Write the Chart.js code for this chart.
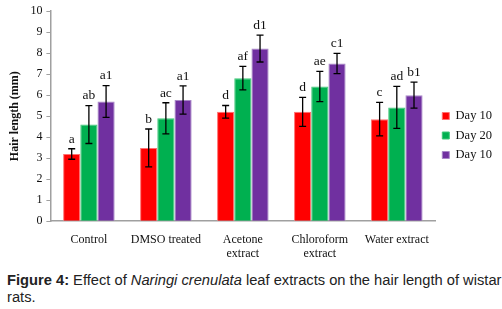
<!DOCTYPE html>
<html><head><meta charset="utf-8">
<script src="https://cdn.jsdelivr.net/npm/chart.js@4.4.1/dist/chart.umd.min.js"></script>
<style>
html,body{margin:0;padding:0;background:#fff;width:502px;height:309px;overflow:hidden;}
#wrap{position:absolute;left:0;top:0;width:502px;height:264px;}
#cap{position:absolute;left:7px;top:272px;font-family:"Liberation Sans",Arial,sans-serif;font-size:14.7px;line-height:17px;color:#222;white-space:nowrap;}
</style></head><body>
<div id="wrap"><canvas id="c"></canvas></div>
<div id="cap"><b>Figure 4:</b> Effect of <i>Naringi crenulata</i> leaf extracts on the hair length of wistar<br>rats.</div>
<script>
const categories = ["Control", "DMSO treated", ["Acetone", "extract"], ["Chloroform", "extract"], "Water extract"];
const seriesNames = ["Day 10", "Day 20", "Day 10"];
const day10a = [3.2, 3.49, 5.21, 5.21, 4.86];
const day20 = [4.6, 4.9, 6.81, 6.41, 5.42];
const day10b = [5.7, 5.77, 8.22, 7.51, 6.0];
const err10a = [0.25, 0.9, 0.3, 0.69, 0.8];
const err20 = [0.9, 0.74, 0.56, 0.72, 1.0];
const err10b = [0.76, 0.67, 0.64, 0.48, 0.62];
const sig10a = ["a", "b", "d", "d", "c"];
const sig20 = ["ab", "ac", "af", "ae", "ad"];
const sig10b = ["a1", "a1", "d1", "c1", "b1"];
const yTicks = [0,1,2,3,4,5,6,7,8,9,10];

const serif = "'Liberation Serif','DejaVu Serif',serif";

const errPlugin = {
  id: 'errbars',
  afterDatasetsDraw(chart) {
    const ctx = chart.ctx;
    const y = chart.scales.y;
    chart.data.datasets.forEach((ds, di) => {
      const meta = chart.getDatasetMeta(di);
      meta.data.forEach((bar, i) => {
        const v = ds.data[i], e = ds.errors[i];
        const yt = y.getPixelForValue(v + e), yb = y.getPixelForValue(v - e);
        const x = bar.x;
        ctx.save();
        ctx.strokeStyle = '#000';
        ctx.lineWidth = 1.3;
        ctx.beginPath();
        ctx.moveTo(x, yt); ctx.lineTo(x, yb);
        ctx.moveTo(x - 3.5, yt); ctx.lineTo(x + 3.5, yt);
        ctx.moveTo(x - 3.5, yb); ctx.lineTo(x + 3.5, yb);
        ctx.stroke();
        ctx.fillStyle = '#111';
        ctx.font = "13.5px " + serif;
        ctx.textAlign = 'center';
        ctx.textBaseline = 'bottom';
        ctx.fillText(ds.sig[i], x, yt - 3);
        ctx.restore();
      });
    });
  }
};

new Chart(document.getElementById('c'), {
  type: 'bar',
  data: {
    labels: categories,
    datasets: [
      {label: seriesNames[0], data: day10a, errors: err10a, sig: sig10a, backgroundColor: '#FF0000', borderColor: '#FF7070', borderWidth: 1},
      {label: seriesNames[1], data: day20, errors: err20, sig: sig20, backgroundColor: '#00B050', borderColor: '#40C878', borderWidth: 1},
      {label: seriesNames[2], data: day10b, errors: err10b, sig: sig10b, backgroundColor: '#7030A0', borderColor: '#A888C8', borderWidth: 1}
    ]
  },
  options: {
    responsive: true,
    maintainAspectRatio: false,
    animation: false,
    layout: {padding: {top: 7, right: 0, left: 8, bottom: 0}},
    datasets: {bar: {categoryPercentage: 0.67, barPercentage: 1.0}},
    plugins: {
      legend: {
        position: 'right',
        labels: {boxWidth: 7, boxHeight: 7, padding: 7, color: '#111', font: {family: serif, size: 12.5}}
      },
      tooltip: {enabled: false}
    },
    scales: {
      x: {
        grid: {display: false},
        border: {display: true, color: '#A0A0A0', width: 1.5},
        ticks: {color: '#111', font: {family: serif, size: 12}, maxRotation: 0, autoSkip: false, padding: 3}
      },
      y: {
        min: 0, max: 10,
        afterBuildTicks(scale) { scale.ticks = yTicks.map(v => ({value: v})); },
        grid: {drawOnChartArea: false, drawTicks: true, tickLength: 4, color: '#A0A0A0'},
        border: {display: true, color: '#A0A0A0', width: 1.5},
        ticks: {color: '#111', font: {family: serif, size: 12}, padding: 4},
        title: {display: true, text: 'Hair length (mm)', color: '#111', font: {family: serif, size: 12, weight: 'bold'}, padding: {top: 0, bottom: 4}}
      }
    }
  },
  plugins: [errPlugin]
});
</script>
</body></html>
